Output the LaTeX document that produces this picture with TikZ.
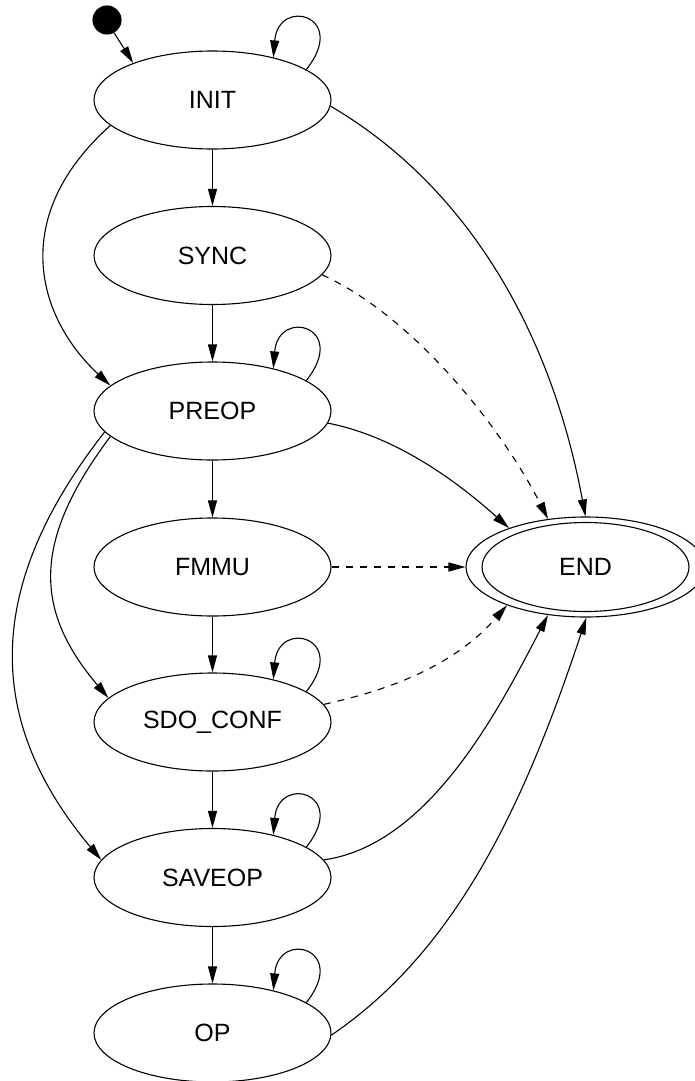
\documentclass[tikz,border=0pt]{standalone}
\usepackage{fontspec}
\setmainfont{Liberation Sans}
\usetikzlibrary{arrows.meta,shapes.geometric}
\begin{document}
\begin{tikzpicture}[x=1pt,y=-1pt,
  state/.style={draw, ellipse, line width=1.1pt, minimum width=237pt, minimum height=98pt, inner sep=0pt, font=\fontsize{25}{30}\selectfont},
  edge/.style={line width=1.1pt, -{Triangle[length=17pt,width=9pt]}},
  dashededge/.style={edge, dash pattern=on 7pt off 7pt}
]
\useasboundingbox (0,0) rectangle (695,1081);
\node[circle, fill=black, draw, line width=1.1pt, minimum size=28pt, inner sep=0pt] (start) at (107,20) {};
\node[state] (init) at (212.5,100) {INIT};
\node[state] (sync) at (212.5,255.5) {SYNC};
\node[state] (preop) at (212.5,411) {PREOP};
\node[state] (fmmu) at (212.5,567) {FMMU};
\node[state] (sdo) at (212.5,722) {SDO\_CONF};
\node[state] (saveop) at (212.5,877.5) {SAVEOP};
\node[state] (op) at (212.5,1033) {OP};
\node[state, minimum width=239pt, minimum height=100pt] (end) at (585.5,567) {END};
\draw[line width=1.1pt] (end.center) ellipse [x radius=103.5, y radius=44.5];

\draw[edge] (start.-61) -- (init.155);
\draw[edge] (init.18) .. controls +(43,-54) and +(5,-61) .. (init.35);
\draw[edge] (init) -- (sync);
\draw[edge] (init.194) .. controls (10,215) and (35,315) .. (preop.166);
\draw[edge] (init.-3) .. controls (460,182) and (549,321) .. (end.90);
\draw[edge] (sync) -- (preop);
\draw[dashededge] (sync.-10) .. controls (415,317) and (503,430) .. (end.128);
\draw[edge] (preop.18) .. controls +(43,-54) and +(5,-61) .. (preop.35);
\draw[edge] (preop) -- (fmmu);
\draw[edge] (preop.-6) .. controls (399,437) and (461,485) .. (end.153);
\draw[edge] (preop.194) .. controls (33,540) and (33,609) .. (sdo.167);
\draw[edge] (preop.191) .. controls (-16,586) and (-16,720) .. (saveop.171);
\draw[edge] (fmmu) -- (sdo);
\draw[dashededge] (fmmu) -- (end);
\draw[edge] (sdo.18) .. controls +(43,-54) and +(5,-61) .. (sdo.35);
\draw[edge] (sdo) -- (saveop);
\draw[dashededge] (sdo.9) .. controls (403,687) and (459,660) .. (end.206);
\draw[edge] (saveop.18) .. controls +(43,-54) and +(5,-61) .. (saveop.35);
\draw[edge] (saveop) -- (op);
\draw[edge] (saveop.9) .. controls (430,845) and (500,707) .. (end.232);
\draw[edge] (op.18) .. controls +(43,-54) and +(5,-61) .. (op.35);
\draw[edge] (op.-1) .. controls (455,951) and (523,809) .. (end.-89);
\end{tikzpicture}
\end{document}
